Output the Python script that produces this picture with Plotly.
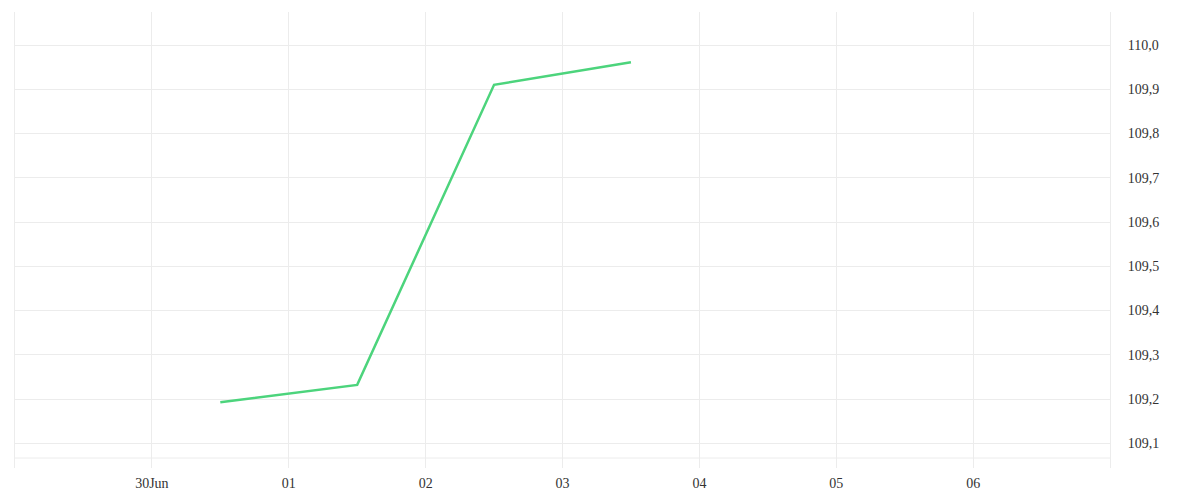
import plotly.graph_objects as go

dates = ["2021-06-30 12:00", "2021-07-01 12:00", "2021-07-02 12:00", "2021-07-03 12:00"]
values = [109.193, 109.232, 109.910, 109.961]

tick_dates = ["2021-06-30", "2021-07-01", "2021-07-02", "2021-07-03",
              "2021-07-04", "2021-07-05", "2021-07-06"]
tick_labels = ["30Jun", "01", "02", "03", "04", "05", "06"]
y_ticks = [109.1, 109.2, 109.3, 109.4, 109.5, 109.6, 109.7, 109.8, 109.9, 110.0]

grid = "#ececec"
font = dict(family="Liberation Serif, DejaVu Serif, serif", size=14, color="#333333")

fig = go.Figure()
fig.add_trace(go.Scatter(x=dates, y=values, mode="lines",
                         line=dict(color="#4cd47c", width=2.5),
                         showlegend=False, hoverinfo="x+y"))

fig.update_layout(
    width=1200, height=500,
    margin=dict(l=7, r=98, t=4, b=40),
    paper_bgcolor="white", plot_bgcolor="white",
    separators=",.",
    font=font,
    xaxis=dict(range=["2021-06-29", "2021-07-07"], tickvals=tick_dates, ticktext=tick_labels,
               showgrid=True, gridcolor=grid, gridwidth=1, zeroline=False,
               showline=False, ticks="", ticklabelstandoff=5, tickfont=font),
    yaxis=dict(side="right", range=[109.0442, 110.0746], tickvals=y_ticks, tickformat=".1f",
               showgrid=True, gridcolor=grid, gridwidth=1, zeroline=False,
               showline=True, mirror=True, linecolor=grid, linewidth=1,
               ticks="", ticklabelstandoff=14, tickfont=font),
    shapes=[dict(type="line", xref="paper", yref="paper", x0=0, x1=1,
                 y0=10/456, y1=10/456, line=dict(color=grid, width=1), layer="below")],
)

fig.write_html("out.html")
